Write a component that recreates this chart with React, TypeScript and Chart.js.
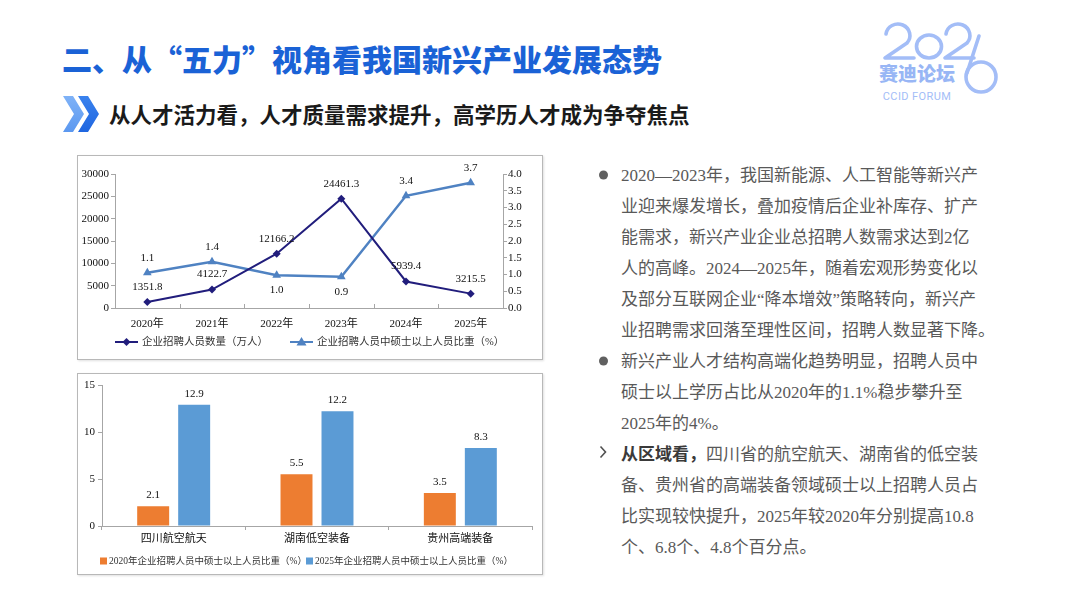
import React, { useEffect, useRef } from 'react';
import { Chart, registerables } from 'chart.js';

Chart.register(...registerables);

// ---------- data ----------
const years = ['2020年', '2021年', '2022年', '2023年', '2024年', '2025年'];
const recruitCount = [1351.8, 4122.7, 12166.2, 24461.3, 5939.4, 3215.5];
const masterShare = [1.05, 1.38, 0.98, 0.93, 3.35, 3.74];
const masterShareLabelSide = ['above', 'above', 'below', 'below', 'above', 'above'];
const countAxisMax = 30000;
const countAxisStep = 5000;
const shareAxisMax = 4.0;
const shareAxisStep = 0.5;
const lineLegend = ['企业招聘人员数量（万人）', '企业招聘人员中硕士以上人员比重（%）'];

const regions = ['四川航空航天', '湖南低空装备', '贵州高端装备'];
const share2020 = [2.1, 5.5, 3.5];
const share2025 = [12.9, 12.2, 8.3];
const barAxisMax = 15;
const barAxisStep = 5;
const barLegend = ['2020年企业招聘人员中硕士以上人员比重（%）', '2025年企业招聘人员中硕士以上人员比重（%）'];

// ---------- styles ----------
const CH_FONT = '"Liberation Serif", "Noto Sans CJK SC", serif';
const NAVY = '#211d7c';
const LBLUE = '#4f82c2';
const ORANGE = '#ed7d31';
const BLUE2 = '#5b9bd5';
const AXIS = '#a6a6a6';
const TXT = '#111';

function LineChart() {
  const ref = useRef<HTMLCanvasElement | null>(null);
  useEffect(() => {
    if (!ref.current) return;
    const labelsPlugin = {
      id: 'lineLabels',
      afterDatasetsDraw(chart: any) {
        const ctx = chart.ctx;
        ctx.save();
        ctx.font = '11px ' + CH_FONT;
        ctx.fillStyle = TXT;
        ctx.textAlign = 'center';
        ctx.textBaseline = 'middle';
        chart.getDatasetMeta(0).data.forEach((p: any, i: number) => {
          ctx.fillText(recruitCount[i].toFixed(1), p.x, p.y - 15);
        });
        chart.getDatasetMeta(1).data.forEach((p: any, i: number) => {
          const dy = masterShareLabelSide[i] === 'above' ? -15 : 15;
          ctx.fillText(masterShare[i].toFixed(1), p.x, p.y + dy);
        });
        ctx.restore();
      },
    };
    const innerTicks = {
      id: 'innerTicks',
      afterDraw(chart: any) {
        const xs = chart.scales.x;
        const ctx = chart.ctx;
        ctx.save();
        ctx.strokeStyle = AXIS;
        ctx.lineWidth = 1;
        const n = years.length;
        for (let i = 1; i < n; i++) {
          const x = Math.round(xs.left + (xs.width * i) / n) + 0.5;
          ctx.beginPath();
          ctx.moveTo(x, xs.top);
          ctx.lineTo(x, xs.top - 4);
          ctx.stroke();
        }
        ctx.restore();
      },
    };
    const legendPlugin = {
      id: 'lineLegend',
      afterDraw(chart: any) {
        const ctx = chart.ctx;
        const ca = chart.chartArea;
        const y = chart.height - 17;
        const items = [
          { x: ca.left, color: NAVY, style: 'rectRot', text: lineLegend[0] },
          { x: ca.left + 175, color: LBLUE, style: 'triangle', text: lineLegend[1] },
        ];
        ctx.save();
        items.forEach((it) => {
          ctx.strokeStyle = it.color;
          ctx.fillStyle = it.color;
          ctx.lineWidth = 2;
          ctx.beginPath();
          ctx.moveTo(it.x, y);
          ctx.lineTo(it.x + 23, y);
          ctx.stroke();
          const cx = it.x + 11.5;
          ctx.beginPath();
          if (it.style === 'rectRot') {
            ctx.moveTo(cx, y - 4);
            ctx.lineTo(cx + 4, y);
            ctx.lineTo(cx, y + 4);
            ctx.lineTo(cx - 4, y);
          } else {
            ctx.moveTo(cx, y - 5);
            ctx.lineTo(cx + 5, y + 3.5);
            ctx.lineTo(cx - 5, y + 3.5);
          }
          ctx.closePath();
          ctx.fill();
          ctx.font = '10.5px ' + CH_FONT;
          ctx.fillStyle = '#333';
          ctx.textAlign = 'left';
          ctx.textBaseline = 'middle';
          ctx.fillText(it.text, it.x + 27, y);
        });
        ctx.restore();
      },
    };
    const chart = new Chart(ref.current, {
      type: 'line',
      data: {
        labels: years,
        datasets: [
          {
            label: lineLegend[0],
            data: recruitCount,
            yAxisID: 'y',
            borderColor: NAVY,
            backgroundColor: NAVY,
            borderWidth: 2,
            pointStyle: 'rectRot',
            pointRadius: 4,
            pointBorderWidth: 0,
            tension: 0,
          },
          {
            label: lineLegend[1],
            data: masterShare,
            yAxisID: 'y1',
            borderColor: LBLUE,
            backgroundColor: LBLUE,
            borderWidth: 2.5,
            pointStyle: 'triangle',
            pointRadius: 5,
            pointBorderWidth: 0,
            tension: 0,
          },
        ],
      },
      options: {
        animation: false,
        responsive: false,
        layout: { padding: { top: 18, left: 0, right: 0, bottom: 0 } },
        plugins: { legend: { display: false }, tooltip: { enabled: false } },
        scales: {
          x: {
            offset: true,
            grid: { display: false, drawTicks: false },
            border: { color: AXIS, width: 1 },
            ticks: { font: { family: CH_FONT, size: 11 }, color: TXT, padding: 10 },
            afterFit: (s: any) => { s.height = 51; },
          },
          y: {
            position: 'left',
            min: 0,
            max: countAxisMax,
            ticks: {
              stepSize: countAxisStep,
              font: { family: CH_FONT, size: 11 },
              color: TXT,
              padding: 2,
              callback: (v: any) => String(v),
            },
            grid: { drawOnChartArea: false, tickLength: 4, color: AXIS },
            border: { color: AXIS, width: 1 },
            afterFit: (s: any) => { s.width = 37; },
          },
          y1: {
            position: 'right',
            min: 0,
            max: shareAxisMax,
            ticks: {
              stepSize: shareAxisStep,
              font: { family: CH_FONT, size: 11 },
              color: TXT,
              padding: 1,
              callback: (v: any) => Number(v).toFixed(1),
            },
            grid: { drawOnChartArea: false, tickLength: 4, color: AXIS },
            border: { color: AXIS, width: 1 },
            afterFit: (s: any) => { s.width = 39; },
          },
        },
      } as any,
      plugins: [labelsPlugin, innerTicks, legendPlugin],
    });
    return () => chart.destroy();
  }, []);
  return <canvas ref={ref} width={464} height={203} style={{ width: 464, height: 203, display: 'block' }} />;
}

function BarChart() {
  const ref = useRef<HTMLCanvasElement | null>(null);
  useEffect(() => {
    if (!ref.current) return;
    const labelsPlugin = {
      id: 'barLabels',
      afterDatasetsDraw(chart: any) {
        const ctx = chart.ctx;
        ctx.save();
        ctx.font = '11px ' + CH_FONT;
        ctx.fillStyle = TXT;
        ctx.textAlign = 'center';
        ctx.textBaseline = 'middle';
        [share2020, share2025].forEach((arr, d) => {
          chart.getDatasetMeta(d).data.forEach((b: any, i: number) => {
            ctx.fillText(arr[i].toFixed(1), b.x, b.y - 11);
          });
        });
        ctx.restore();
      },
    };
    const legendPlugin = {
      id: 'barLegend',
      afterDraw(chart: any) {
        const ctx = chart.ctx;
        const ca = chart.chartArea;
        const y = chart.height - 13;
        const items = [
          { x: ca.left - 2, color: ORANGE, text: barLegend[0] },
          { x: ca.left + 204, color: BLUE2, text: barLegend[1] },
        ];
        ctx.save();
        items.forEach((it) => {
          ctx.fillStyle = it.color;
          ctx.fillRect(it.x, y - 3.5, 7, 7);
          ctx.font = '9.5px ' + CH_FONT;
          ctx.fillStyle = '#333';
          ctx.textAlign = 'left';
          ctx.textBaseline = 'middle';
          ctx.fillText(it.text, it.x + 9, y);
        });
        ctx.restore();
      },
    };
    const chart = new Chart(ref.current, {
      type: 'bar',
      data: {
        labels: regions,
        datasets: [
          { label: barLegend[0], data: share2020, backgroundColor: ORANGE, categoryPercentage: 0.572, barPercentage: 0.78 },
          { label: barLegend[1], data: share2025, backgroundColor: BLUE2, categoryPercentage: 0.572, barPercentage: 0.78 },
        ],
      },
      options: {
        animation: false,
        responsive: false,
        layout: { padding: { top: 11, left: 0, right: 10, bottom: 0 } },
        plugins: { legend: { display: false }, tooltip: { enabled: false } },
        scales: {
          x: {
            grid: { display: true, drawOnChartArea: false, drawTicks: true, tickLength: 4, color: AXIS, offset: true },
            border: { color: AXIS, width: 1 },
            ticks: { font: { family: CH_FONT, size: 11 }, color: TXT, padding: 3 },
            afterFit: (s: any) => { s.height = 48; },
          },
          y: {
            min: 0,
            max: barAxisMax,
            ticks: { stepSize: barAxisStep, font: { family: CH_FONT, size: 11 }, color: TXT, padding: 3 },
            grid: { drawOnChartArea: false, tickLength: 4, color: AXIS },
            border: { color: AXIS, width: 1 },
            afterFit: (s: any) => { s.width = 24; },
          },
        },
      } as any,
      plugins: [labelsPlugin, legendPlugin],
    });
    return () => chart.destroy();
  }, []);
  return <canvas ref={ref} width={464} height={200} style={{ width: 464, height: 200, display: 'block' }} />;
}

const para1 = [
  '2020—2023年，我国新能源、人工智能等新兴产',
  '业迎来爆发增长，叠加疫情后企业补库存、扩产',
  '能需求，新兴产业企业总招聘人数需求达到2亿',
  '人的高峰。2024—2025年，随着宏观形势变化以',
  '及部分互联网企业“降本增效”策略转向，新兴产',
  '业招聘需求回落至理性区间，招聘人数显著下降。',
];
const para2 = [
  '新兴产业人才结构高端化趋势明显，招聘人员中',
  '硕士以上学历占比从2020年的1.1%稳步攀升至',
  '2025年的4%。',
];
const para3Bold = '从区域看，';
const para3 = [
  '四川省的航空航天、湖南省的低空装',
  '备、贵州省的高端装备领域硕士以上招聘人员占',
  '比实现较快提升，2025年较2020年分别提高10.8',
  '个、6.8个、4.8个百分点。',
];

export default function App() {
  const lineStyle: React.CSSProperties = { height: 31, lineHeight: '31px', whiteSpace: 'nowrap' };
  return (
    <div
      style={{
        position: 'absolute',
        left: 0,
        top: 0,
        width: 1080,
        height: 607,
        background: '#fff',
        overflow: 'hidden',
        fontFamily: '"Noto Sans CJK SC", sans-serif',
      }}
    >
      {/* decorations */}
      <svg width={1080} height={607} style={{ position: 'absolute', left: 0, top: 0 }}>
        <defs>
          <linearGradient id="chev1" x1="0" y1="0" x2="0" y2="1">
            <stop offset="0" stopColor="#7fb2f7" />
            <stop offset="1" stopColor="#5b98f0" />
          </linearGradient>
          <linearGradient id="chev2" x1="0" y1="0" x2="0" y2="1">
            <stop offset="0" stopColor="#3a82ee" />
            <stop offset="1" stopColor="#1f66e0" />
          </linearGradient>
        </defs>
        <polygon points="63,96 73,96 84,114 73,132 63,132 74,114" fill="url(#chev1)" />
        <polygon points="78,96 88,96 99,114 88,132 78,132 89,114" fill="url(#chev2)" />
        {/* logo */}
        <g fill="none" stroke="#a3bdf7" strokeWidth={3.6} strokeLinecap="round" strokeLinejoin="round">
          <path d="M 886 34 A 12 11.5 0 1 1 907 43 L 885 58 L 914 58" />
          <ellipse cx={929} cy={46.5} rx={12.5} ry={11.5} />
          <path d="M 946 34 A 12 11.5 0 1 1 967 43 L 945 58 L 974 58" />
          <circle cx={981} cy={77} r={15} />
          <path d="M 967 73 L 979 36" />
        </g>
        <text x={917} y={81} textAnchor="middle" fontSize={19} fontWeight={900} fill="#98b6f5" fontFamily='"Noto Sans CJK SC"'>
          赛迪论坛
        </text>
        <text x={917} y={100} textAnchor="middle" fontSize={11} fill="#a3bdf7" fontFamily="Roboto" letterSpacing={0.4}>
          CCID FORUM
        </text>
        {/* bullets */}
        <circle cx={603.5} cy={175} r={4.5} fill="#606060" />
        <circle cx={603.5} cy={361} r={4.5} fill="#606060" />
        <polyline points="600.5,446.5 605.5,452 600.5,457.5" fill="none" stroke="#505050" strokeWidth={1.6} />
      </svg>

      {/* title */}
      <div
        style={{
          position: 'absolute',
          left: 62,
          top: 42,
          fontSize: 30,
          lineHeight: '32px',
          fontWeight: 900,
          color: '#1a62d6',
          whiteSpace: 'nowrap',
        }}
      >
        二、从“五力”视角看我国新兴产业发展态势
      </div>
      {/* subtitle */}
      <div
        style={{
          position: 'absolute',
          left: 109,
          top: 102,
          fontSize: 21.5,
          lineHeight: '24px',
          fontWeight: 700,
          color: '#1a1a1a',
          whiteSpace: 'nowrap',
        }}
      >
        从人才活力看，人才质量需求提升，高学历人才成为争夺焦点
      </div>

      {/* chart boxes */}
      <div
        style={{
          position: 'absolute',
          left: 77,
          top: 155,
          width: 464,
          height: 203,
          border: '1px solid #b8b8b8',
          boxShadow: '1px 1px 2px rgba(0,0,0,0.12)',
          background: '#fff',
        }}
      >
        <LineChart />
      </div>
      <div
        style={{
          position: 'absolute',
          left: 77,
          top: 373,
          width: 464,
          height: 200,
          border: '1px solid #b8b8b8',
          boxShadow: '1px 1px 2px rgba(0,0,0,0.12)',
          background: '#fff',
        }}
      >
        <BarChart />
      </div>

      {/* right text */}
      <div
        style={{
          position: 'absolute',
          left: 621,
          top: 159.5,
          fontSize: 17,
          color: '#595959',
          fontFamily: '"Liberation Serif", "Noto Sans CJK SC", serif',
        }}
      >
        {para1.map((t, i) => (
          <div key={'a' + i} style={lineStyle}>{t}</div>
        ))}
        {para2.map((t, i) => (
          <div key={'b' + i} style={lineStyle}>{t}</div>
        ))}
        {para3.map((t, i) => (
          <div key={'c' + i} style={lineStyle}>
            {i === 0 ? <span style={{ fontWeight: 700, color: '#3a3a3a' }}>{para3Bold}</span> : null}
            {t}
          </div>
        ))}
      </div>
    </div>
  );
}
